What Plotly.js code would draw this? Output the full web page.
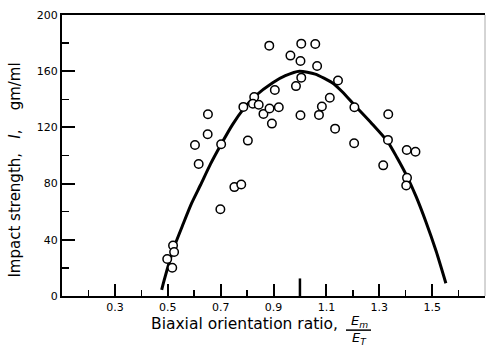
<!DOCTYPE html>
<html>
<head>
<meta charset="utf-8">
<script src="https://cdn.plot.ly/plotly-3.0.1.min.js"></script>
<style>html,body{margin:0;padding:0;background:#fff;}#chart{width:486px;height:346px;}</style>
</head>
<body>
<div id="chart"></div>
<script>
// Measured points: biaxial orientation ratio vs impact strength (gm/ml)
const ratio = [0.498,0.520,0.524,0.517,0.652,0.651,0.603,0.702,0.617,0.752,0.778,0.699,0.803,0.786,0.827,0.822,0.844,0.862,0.884,1.005,1.058,0.964,1.002,1.065,1.005,1.144,0.985,0.905,1.113,0.920,0.885,1.083,1.206,1.002,1.072,0.894,1.133,1.205,1.334,1.333,1.404,1.437,1.315,1.405,1.402];
const strength = [26.3,35.9,31.3,20.1,129.4,115.1,107.5,108.0,93.9,77.5,79.4,61.8,110.6,134.6,141.6,136.8,136.1,129.6,178.2,179.6,179.4,171.1,167.3,163.7,155.4,153.4,149.4,146.6,141.1,134.4,133.4,134.9,134.4,128.7,128.9,122.7,119.1,108.7,129.4,111.1,103.9,102.7,93.0,84.1,78.7];

// Fitted curve
const curveRatio = [0.477,0.486,0.524,0.559,0.590,0.624,0.662,0.702,0.745,0.786,0.829,0.897,0.945,0.998,1.058,1.122,1.160,1.205,1.273,1.333,1.367,1.404,1.440,1.476,1.515,1.552];
const curveStrength = [4.4,11.0,34.8,51.6,65.9,79.0,94.0,108.0,122.0,133.0,142.0,151.8,156.8,160.0,157.9,151.8,145.4,136.1,122.5,109.6,98.6,85.5,70.5,53.0,32.0,9.1];

const xTickVals = [0.3,0.5,0.7,0.9,1.1,1.3,1.5];
const xTickText = ['0.3','0.5','0.7','0.9','1.1','1.3','1.5'];
const xMinorVals = [0.2,0.4,0.6,0.8,1.0,1.2,1.4,1.6];
const yTickVals = [0,40,80,120,160,200];
const yMinorVals = [20,60,100,140,180];
const markerRatio = 1.0;

const FONT = 'DejaVu Sans, sans-serif';

const traces = [
  {x: curveRatio, y: curveStrength, type: 'scatter', mode: 'lines',
   line: {color: '#000', width: 3, shape: 'spline', smoothing: 0.6},
   hoverinfo: 'skip', showlegend: false},
  {x: ratio, y: strength, type: 'scatter', mode: 'markers',
   marker: {symbol: 'circle', size: 8.5, color: '#fff', line: {color: '#000', width: 1.5}},
   showlegend: false}
];

const layout = {
  width: 486, height: 346,
  margin: {l: 62, r: 1, t: 15, b: 50},
  paper_bgcolor: '#fff', plot_bgcolor: '#fff',
  font: {family: FONT, color: '#000', size: 11},
  xaxis: {
    range: [0.1, 1.7], showgrid: false, zeroline: false,
    showline: true, linecolor: '#000', linewidth: 2, mirror: true,
    tickmode: 'array', tickvals: xTickVals, ticktext: xTickText,
    ticks: 'inside', ticklen: 12, tickwidth: 2, tickcolor: '#000',
    minor: {tickmode: 'array', tickvals: xMinorVals, ticks: 'inside', ticklen: 6, tickwidth: 1.5, tickcolor: '#000'},
    tickfont: {family: FONT, size: 11, color: '#000'}
  },
  yaxis: {
    range: [0, 200], showgrid: false, zeroline: false,
    showline: true, linecolor: '#000', linewidth: 2,
    tickmode: 'array', tickvals: yTickVals,
    ticks: 'inside', ticklen: 13, tickwidth: 2, tickcolor: '#000',
    minor: {tickmode: 'array', tickvals: yMinorVals, ticks: 'inside', ticklen: 7, tickwidth: 1.5, tickcolor: '#000'},
    tickfont: {family: FONT, size: 11, color: '#000'}
  },
  shapes: [
    {type: 'line', xref: 'x', yref: 'y', x0: markerRatio, x1: markerRatio, y0: 0, y1: 12.5,
     line: {color: '#000', width: 2.5}},
    {type: 'line', xref: 'paper', yref: 'paper', x0: 1, x1: 1, y0: 0, y1: 1,
     line: {color: '#aaa', width: 1}},
    {type: 'line', xref: 'paper', yref: 'paper', x0: (346-62)/423, x1: (371-62)/423,
     y0: (296-330)/280, y1: (296-330)/280, line: {color: '#000', width: 1.5}}
  ],
  annotations: [
    {text: 'Biaxial orientation ratio,', xref: 'paper', yref: 'paper',
     x: (244-62)/423, y: (296-324)/280, xanchor: 'center', yanchor: 'middle',
     showarrow: false, font: {family: FONT, size: 15.5, color: '#000'}},
    {text: '<i>E</i><sub><i>m</i></sub>', xref: 'paper', yref: 'paper',
     x: (359-62)/423, y: (296-321)/280, xanchor: 'center', yanchor: 'middle',
     showarrow: false, font: {family: FONT, size: 13, color: '#000'}},
    {text: '<i>E</i><sub><i>T</i></sub>', xref: 'paper', yref: 'paper',
     x: (359-62)/423, y: (296-338)/280, xanchor: 'center', yanchor: 'middle',
     showarrow: false, font: {family: FONT, size: 13, color: '#000'}},
    {text: 'Impact strength,&nbsp;&nbsp; <i>I</i>,&nbsp;&nbsp;&nbsp; gm/ml', xref: 'paper', yref: 'paper',
     x: (15-62)/423, y: (296-171)/280, xanchor: 'center', yanchor: 'middle', textangle: -90,
     showarrow: false, font: {family: FONT, size: 15, color: '#000'}}
  ]
};

Plotly.newPlot('chart', traces, layout, {displayModeBar: false, staticPlot: true});
</script>
</body>
</html>
